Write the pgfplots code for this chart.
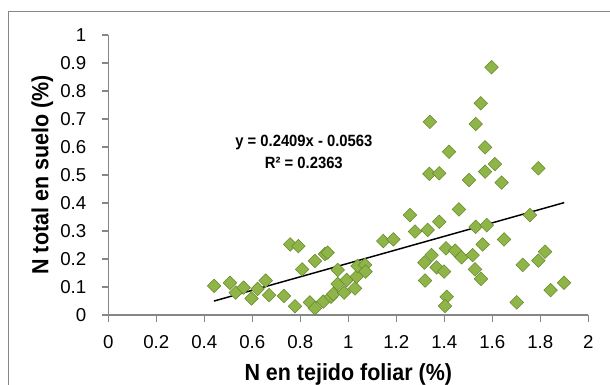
\documentclass[border=0pt]{standalone}
\usepackage{pgfplots}
\pgfplotsset{compat=1.18}
\usepackage{fontspec}
\setmainfont{Liberation Sans}
\newfontfamily\tickfont{Liberation Sans}
\newfontfamily\titlefont[FakeStretch=0.92]{Liberation Sans}
\newfontfamily\eqfont[FakeStretch=0.91]{Liberation Sans}
\definecolor{axgray}{HTML}{868686}
\definecolor{mkfill}{HTML}{8FB548}
\definecolor{mkdraw}{HTML}{67882C}
\begin{document}
\begin{tikzpicture}
\useasboundingbox (-81.2pt,-52.5pt) rectangle (376.3pt,236.25pt);
\draw[axgray, line width=0.8pt] (-74.5pt,-60pt) -- (-74.5pt,227.6pt) -- (390pt,227.6pt);
\begin{axis}[
  at={(0,0)}, anchor=south west,
  scale only axis, width=360pt, height=210pt,
  xmin=0, xmax=2, ymin=0, ymax=1,
  xtick={0,0.2,...,2.01}, ytick={0,0.1,...,1.01},
  axis lines=left, axis line style={axgray, line width=0.9pt, -},
  tick align=outside, major tick length=5pt,
  tick style={axgray, line width=0.9pt},
  /pgf/number format/assume math mode=true,
  /pgf/number format/fixed,
  tick label style={font=\fontsize{14}{16}\tickfont},
  xticklabel style={anchor=base, yshift=-20pt},
  yticklabel style={anchor=east, xshift=-8pt},
  clip=false,
]
\addplot[only marks, mark=square*, mark size=3.6pt,
  mark options={rotate=45, fill=mkfill, draw=mkdraw, line width=0.4pt}]
coordinates {
(0.441,0.104) (0.507,0.115) (0.531,0.080) (0.564,0.098) (0.597,0.059)
(0.622,0.093) (0.656,0.123) (0.670,0.071) (0.732,0.068) (0.758,0.252)
(0.792,0.246) (0.778,0.031) (0.808,0.163) (0.840,0.045) (0.861,0.193)
(0.861,0.024) (0.896,0.048) (0.903,0.218) (0.914,0.223) (0.928,0.065)
(0.938,0.075) (0.956,0.161) (0.956,0.111) (0.983,0.080) (0.993,0.125)
(1.028,0.095) (1.035,0.137) (1.039,0.175) (1.070,0.179) (1.072,0.155)
(1.146,0.264) (1.188,0.270) (1.257,0.357) (1.278,0.298) (1.331,0.304)
(1.379,0.333) (1.461,0.377) (1.317,0.187) (1.347,0.214) (1.368,0.170)
(1.399,0.155) (1.320,0.123) (1.407,0.238) (1.445,0.230) (1.472,0.206)
(1.518,0.214) (1.560,0.252) (1.528,0.163) (1.553,0.129) (1.410,0.065)
(1.403,0.032) (1.531,0.315) (1.577,0.321) (1.649,0.270) (1.727,0.179)
(1.702,0.045) (1.757,0.357) (1.792,0.194) (1.820,0.226) (1.843,0.089)
(1.899,0.115)
(1.597,0.885) (1.552,0.756) (1.340,0.690) (1.531,0.682) (1.420,0.583)
(1.570,0.599) (1.611,0.539) (1.570,0.512) (1.792,0.524) (1.338,0.504)
(1.379,0.506) (1.503,0.482) (1.639,0.473)
};
\addplot[black, line width=1.1pt] coordinates {(0.44,0.0497) (1.9,0.4014)};
\node[align=center, font=\fontsize{12.2}{16.2}\selectfont\eqfont\bfseries] at (axis cs:0.815,0.583) {y = 0.2409x - 0.0563\\R² = 0.2363};
\end{axis}
\node[anchor=base, font=\fontsize{17.5}{20}\selectfont\titlefont\bfseries] at (180pt,-48.75pt) {N en tejido foliar (\%)};
\node[anchor=base, rotate=90, font=\fontsize{17.5}{20}\selectfont\titlefont\bfseries] at (-45pt,105pt) {N total en suelo (\%)};
\end{tikzpicture}
\end{document}
